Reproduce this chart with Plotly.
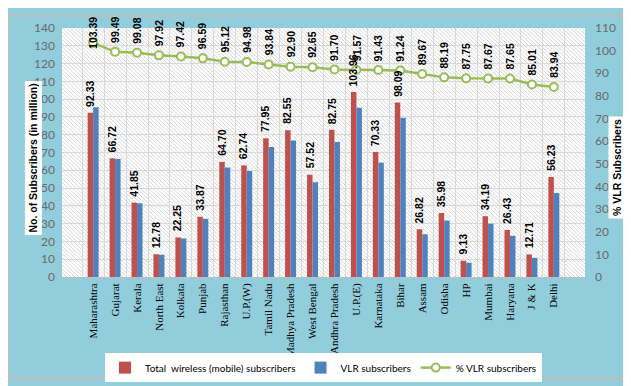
import base64
import plotly.graph_objects as go

categories = ["Maharashtra", "Gujarat", "Kerala", "North East", "Kolkata", "Punjab",
              "Rajasthan", "U.P.(W)", "Tamil Nadu", "Madhya Pradesh", "West Bengal",
              "Andhra Pradesh", "U.P.(E)", "Karnataka", "Bihar", "Assam", "Odisha",
              "HP", "Mumbai", "Haryana", "J & K", "Delhi"]

total_wireless = [92.33, 66.72, 41.85, 12.78, 22.25, 33.87, 64.70, 62.74, 77.95, 82.55,
                  57.52, 82.75, 103.96, 70.33, 98.09, 26.82, 35.98, 9.13, 34.19, 26.43,
                  12.71, 56.23]

vlr_subscribers = [95.46, 66.38, 41.47, 12.51, 21.68, 32.72, 61.54, 59.59, 73.15, 76.69,
                   53.29, 75.88, 95.20, 64.30, 89.50, 24.05, 31.73, 8.01, 29.97, 23.17,
                   10.80, 47.20]

pct_vlr = [103.39, 99.49, 99.08, 97.92, 97.42, 96.59, 95.12, 94.98, 93.84, 92.90,
           92.65, 91.70, 91.57, 91.43, 91.24, 89.67, 88.19, 87.75, 87.67, 87.65,
           85.01, 83.94]

left_ticks = list(range(0, 141, 10))
right_ticks = list(range(0, 111, 10))

W, H = 631, 386
ML, MR, MT, MB = 54, 54, 13, 108
PW, PH = W - ML - MR, H - MT - MB
CAT_W = PW / len(categories)

RED = "#C0504D"
BLUE = "#4F81BD"
GREEN = "#9BBB59"
BG = "#92CDDC"
TICK = "#6A6A6A"
LBL_FONT = dict(family="Liberation Sans, Arial", size=10.5, color="black", weight="bold")

fig = go.Figure()
fig.add_trace(go.Bar(
    name="Total  wireless (mobile) subscribers", x=categories, y=total_wireless,
    marker=dict(color=RED, line=dict(width=0)),
))
fig.add_trace(go.Bar(
    name="VLR subscribers", x=categories, y=vlr_subscribers,
    marker=dict(color=BLUE, line=dict(width=0)),
))
fig.add_trace(go.Scatter(
    name="% VLR subscribers", x=categories, y=pct_vlr, yaxis="y2",
    mode="lines+markers", line=dict(color=GREEN, width=2.5),
    marker=dict(symbol="circle", size=8, color="white", line=dict(color=GREEN, width=2)),
    cliponaxis=False,
))

# rotated value labels above the red bars
for c, v in zip(categories, total_wireless):
    fig.add_annotation(x=c, xref="x", y=v, yref="y", yanchor="bottom", yshift=5,
                       xshift=-CAT_W * 0.125, text=f"{v:.2f}", textangle=-90,
                       showarrow=False, font=LBL_FONT, borderpad=0)

# rotated labels above the % markers
gap = 8
for c, v in zip(categories, pct_vlr):
    txt = f"{v:.2f}"
    est_len = sum(5.9 if ch.isdigit() else 3.0 for ch in txt)
    px_from_top = MT + PH * (1 - v / 110)
    if px_from_top - gap - est_len < 0:
        fig.add_annotation(x=c, xref="x", y=1 + MT / PH, yref="paper", yanchor="top",
                           text=txt, textangle=-90, showarrow=False, font=LBL_FONT,
                           borderpad=0)
    else:
        fig.add_annotation(x=c, xref="x", y=v, yref="y2", yanchor="bottom", yshift=gap,
                           text=txt, textangle=-90, showarrow=False, font=LBL_FONT,
                           borderpad=0)

# axis titles in white boxes
fig.add_annotation(x=-38 / PW, xref="paper", y=(MT + PH - 152) / PH, yref="paper",
                   text="<b>No. of Subscribers (in million)</b>", textangle=-90,
                   showarrow=False, bgcolor="white", borderpad=2,
                   font=dict(family="Liberation Sans, Arial", size=10.5, color="black"))
fig.add_annotation(x=1 + (618 - ML - PW) / PW, xref="paper", y=(MT + PH - 162) / PH,
                   yref="paper", text="<b>% VLR Subscribers</b>", textangle=-90,
                   showarrow=False, bgcolor="white", borderpad=2,
                   font=dict(family="Liberation Sans, Arial", size=10.5, color="black"))

# hatched plot-area background
svg = ('<svg xmlns="http://www.w3.org/2000/svg" width="%d" height="%d">'
       '<defs><pattern id="p" width="4" height="4" patternUnits="userSpaceOnUse">'
       '<path d="M-1,-1 L5,5 M-1,3 L1,5 M3,-1 L5,1" stroke="#D0D0D0" stroke-width="0.9"/>'
       '</pattern></defs><rect width="100%%" height="100%%" fill="white"/>'
       '<rect width="100%%" height="100%%" fill="url(#p)"/></svg>') % (PW, PH)
src = "data:image/svg+xml;base64," + base64.b64encode(svg.encode()).decode()
fig.add_layout_image(source=src, xref="paper", yref="paper", x=0, y=1, sizex=1, sizey=1,
                     sizing="stretch", xanchor="left", yanchor="top", layer="below")

fig.update_layout(
    width=W, height=H,
    margin=dict(l=ML, r=MR, t=MT, b=MB),
    paper_bgcolor=BG, plot_bgcolor="rgba(0,0,0,0)",
    barmode="group", bargap=0.5, bargroupgap=0,
    showlegend=True,
    legend=dict(orientation="h", x=0.5, xanchor="center", y=-(359 - MT - PH) / PH,
                yanchor="top", bgcolor="white", borderwidth=0,
                font=dict(family="Lato, Liberation Sans", size=10, color="black"),
                itemwidth=30, tracegroupgap=0),
    xaxis=dict(type="category", tickson="boundaries", showgrid=True, gridcolor="#D9D9D9",
               gridwidth=1, tickangle=-90, ticks="", showline=True, linecolor="#BFBFBF",
               ticklabelstandoff=1,
               tickfont=dict(family="Liberation Serif, DejaVu Serif", size=11, color="black")),
    yaxis=dict(range=[0, 140], tickvals=left_ticks, showgrid=True, gridcolor="#D9D9D9",
               zeroline=False, ticks="", ticklabelstandoff=6,
               tickfont=dict(family="Lato", size=12, color=TICK)),
    yaxis2=dict(range=[0, 110], tickvals=right_ticks, overlaying="y", side="right",
                showgrid=False, zeroline=False, ticks="", ticklabelstandoff=9,
                tickfont=dict(family="Lato", size=12, color=TICK)),
)
fig.add_shape(type="rect", xref="paper", yref="paper", x0=-ML / PW, x1=1 + MR / PW,
              y0=-MB / PH, y1=1 + MT / PH, line=dict(color="#BFBFBF", width=2),
              fillcolor="rgba(0,0,0,0)", layer="above")

fig.write_html("out.html")
